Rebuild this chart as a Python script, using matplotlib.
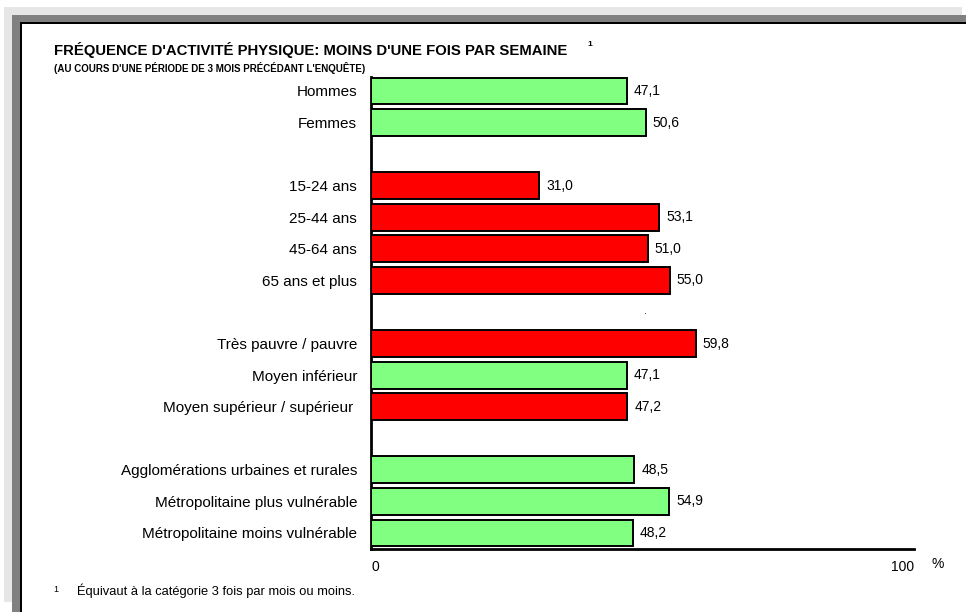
import matplotlib
matplotlib.use("Agg")
import matplotlib.pyplot as plt
from matplotlib.patches import Rectangle
from matplotlib import font_manager

categories = ["Hommes", "Femmes", "15-24 ans", "25-44 ans", "45-64 ans", "65 ans et plus",
              "Très pauvre / pauvre", "Moyen inférieur", "Moyen supérieur / supérieur ",
              "Agglomérations urbaines et rurales", "Métropolitaine plus vulnérable",
              "Métropolitaine moins vulnérable"]
values = [47.1, 50.6, 31.0, 53.1, 51.0, 55.0, 59.8, 47.1, 47.2, 48.5, 54.9, 48.2]
groups = [0, 0, 1, 1, 1, 1, 2, 2, 2, 3, 3, 3]
highlight = [False, False, True, True, True, True, True, False, True, False, False, False]
value_labels = ["47,1", "50,6", "31,0", "53,1", "51,0", "55,0", "59,8", "47,1", "47,2", "48,5", "54,9", "48,2"]
xtick_values = [0, 100]
xtick_labels = ["0", "100"]

W, H = 966, 612
fig = plt.figure(figsize=(W / 100, H / 100), dpi=100)
fig.patch.set_facecolor("white")

available = {f.name for f in font_manager.fontManager.ttflist}
sans = "Liberation Sans"
if "Liberation Sans Narrow" in available:
    narrow, foot_size = "Liberation Sans Narrow", 11
else:
    narrow, foot_size = "Liberation Sans", 9.3

def fx(px):
    return px / W

def fy(py):
    return 1 - py / H

# frame decoration
bg = fig.add_axes([0, 0, 1, 1], zorder=-10)
bg.set_xlim(0, W)
bg.set_ylim(H, 0)
bg.axis("off")
bg.add_patch(Rectangle((4, 7), 958, 595, facecolor="#e6e6e6", edgecolor="none"))
bg.add_patch(Rectangle((12, 15), 960, 600, facecolor="#808080", edgecolor="none"))
bg.add_patch(Rectangle((20, 22), 960, 600, facecolor="black", edgecolor="none"))
bg.add_patch(Rectangle((22, 24), 960, 600, facecolor="white", edgecolor="none"))
bg.add_patch(Rectangle((645, 313), 1, 1, facecolor="#3050a0", edgecolor="none"))

# positions with gaps between groups
positions = [i + g for i, g in enumerate(groups)]

ax_left, ax_right, ax_top, ax_bottom = 371, 914, 77, 549
ax = fig.add_axes([fx(ax_left), fy(ax_bottom), fx(ax_right - ax_left), (ax_bottom - ax_top) / H])
ax.set_facecolor("none")
colors = ["#ff0000" if h else "#80ff80" for h in highlight]
ax.barh(positions, values, height=0.85, color=colors, edgecolor="black", linewidth=1.4, zorder=3)
ax.set_xlim(0, 100)
ax.set_ylim(14.507, -0.443)
ax.set_yticks(positions)
ax.set_yticklabels(categories, fontsize=11, family=sans)
ax.tick_params(axis="y", length=0, pad=10)
ax.set_xticks(xtick_values)
ax.set_xticklabels(xtick_labels, fontsize=10, family=sans)
ax.tick_params(axis="x", length=0, pad=8)
tl = ax.get_xticklabels()
tl[0].set_ha("left")
tl[1].set_ha("right")
for s in ["top", "right"]:
    ax.spines[s].set_visible(False)
ax.spines["left"].set_linewidth(2)
ax.spines["bottom"].set_linewidth(2)

for p, v, lab in zip(positions, values, value_labels):
    ax.annotate(lab, (v, p), xytext=(5, 0), textcoords="offset points",
                va="center", ha="left", fontsize=10, family=sans)

fig.text(fx(938), fy(564), "%", fontsize=10, family=sans, ha="center", va="center")

fig.text(fx(54), fy(50), "FRÉQUENCE D'ACTIVITÉ PHYSIQUE: MOINS D'UNE FOIS PAR SEMAINE",
         fontsize=10.7, fontweight="bold", family=sans, ha="left", va="center")
fig.text(fx(590), fy(45), "1", fontsize=6, fontweight="bold", family=sans, ha="center", va="center")
fig.text(fx(54), fy(68), "(AU COURS D'UNE PÉRIODE DE 3 MOIS PRÉCÉDANT L'ENQUÊTE)",
         fontsize=7, fontweight="bold", family=sans, ha="left", va="center")

fig.text(fx(56), fy(589), "1", fontsize=6.5, family=sans, ha="center", va="center")
fig.text(fx(77), fy(591), "Équivaut à la catégorie 3 fois par mois ou moins.",
         fontsize=foot_size, family=narrow, ha="left", va="center")

fig.savefig("out.png", dpi=100, facecolor=fig.get_facecolor())
